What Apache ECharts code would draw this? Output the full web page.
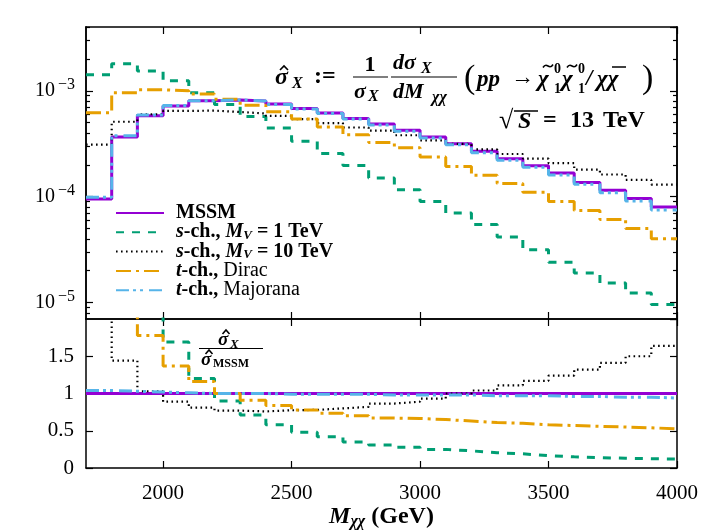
<!DOCTYPE html>
<html>
<head>
<meta charset="utf-8">
<script src="https://cdn.jsdelivr.net/npm/echarts@6/dist/echarts.min.js"></script>
<style>
  html, body { margin: 0; padding: 0; background: #fff; }
  #chart { width: 709px; height: 532px; }
</style>
</head>
<body>
<div id="chart"></div>
<script>
// bin edges (GeV), 100 GeV bins
const binEdges = [1700, 1800, 1900, 2000, 2100, 2200, 2300, 2400, 2500, 2600, 2700, 2800,
  2900, 3000, 3100, 3200, 3300, 3400, 3500, 3600, 3700, 3800, 3900, 4000];

// upper panel: normalised distributions
const mssmTop = [9.5e-5, 3.66e-4, 5.8e-4, 7.2e-4, 8.05e-4, 8.2e-4, 8.0e-4, 7.5e-4, 6.8e-4, 6.16e-4,
  5.48e-4, 4.85e-4, 4.23e-4, 3.66e-4, 3.16e-4, 2.68e-4, 2.28e-4, 1.96e-4, 1.67e-4, 1.36e-4,
  1.15e-4, 9.6e-5, 8.0e-5];
const sch1Top = [1.42e-3, 1.8e-3, 1.54e-3, 1.24e-3, 9.6e-4, 7.4e-4, 5.73e-4, 4.45e-4, 3.33e-4, 2.55e-4,
  1.97e-4, 1.5e-4, 1.16e-4, 9.0e-5, 7.0e-5, 5.45e-5, 4.17e-5, 3.16e-5, 2.4e-5, 1.9e-5,
  1.53e-5, 1.23e-5, 9.6e-6];
const sch10Top = [3.1e-4, 5.1e-4, 6.0e-4, 6.45e-4, 6.5e-4, 6.3e-4, 6.1e-4, 5.8e-4, 5.4e-4, 4.95e-4,
  4.5e-4, 4.2e-4, 3.8e-4, 3.4e-4, 3.15e-4, 2.8e-4, 2.53e-4, 2.29e-4, 2.07e-4, 1.8e-4,
  1.62e-4, 1.44e-4, 1.3e-4];
const diracTop = [6.2e-4, 9.6e-4, 1.02e-3, 1.0e-3, 9.3e-4, 8.3e-4, 7.3e-4, 6.35e-4, 5.4e-4, 4.55e-4,
  3.85e-4, 3.25e-4, 2.9e-4, 2.37e-4, 1.93e-4, 1.59e-4, 1.33e-4, 1.1e-4, 9.0e-5, 7.4e-5,
  6.1e-5, 5.0e-5, 4.0e-5];
const majoranaTop = [9.9e-5, 3.77e-4, 5.9e-4, 7.27e-4, 8.05e-4, 8.2e-4, 8.0e-4, 7.43e-4, 6.73e-4, 6.1e-4,
  5.42e-4, 4.75e-4, 4.15e-4, 3.59e-4, 3.1e-4, 2.6e-4, 2.21e-4, 1.9e-4, 1.6e-4, 1.31e-4,
  1.09e-4, 9.1e-5, 7.5e-5];

// lower panel: ratio to MSSM
const mssmRatio = [1, 1, 1, 1, 1, 1, 1, 1, 1, 1, 1, 1, 1, 1, 1, 1, 1, 1, 1, 1, 1, 1, 1];
const sch1Ratio = [15, 4.9, 2.65, 1.69, 1.2, 0.9, 0.71, 0.58, 0.48, 0.42, 0.35, 0.31, 0.28, 0.25,
  0.23, 0.205, 0.19, 0.165, 0.15, 0.14, 0.13, 0.125, 0.12];
const sch10Ratio = [3.3, 1.44, 1.03, 0.89, 0.81, 0.77, 0.76, 0.775, 0.78, 0.8, 0.82, 0.865, 0.89, 0.93,
  1.0, 1.04, 1.11, 1.17, 1.24, 1.32, 1.41, 1.5, 1.64];
const diracRatio = [6.5, 2.6, 1.78, 1.37, 1.16, 1.0, 0.91, 0.84, 0.78, 0.735, 0.7, 0.67, 0.665, 0.65,
  0.63, 0.61, 0.6, 0.58, 0.57, 0.56, 0.55, 0.54, 0.525];
const majoranaRatio = [1.04, 1.03, 1.02, 1.01, 1.0, 1.0, 1.0, 0.99, 0.99, 0.99, 0.99, 0.98, 0.98, 0.98,
  0.98, 0.97, 0.97, 0.97, 0.96, 0.96, 0.95, 0.95, 0.94];

const seriesNames = ["MSSM", "s-ch., M_V = 1 TeV", "s-ch., M_V = 10 TeV", "t-ch., Dirac", "t-ch., Majorana"];
const xTickValues = [2000, 2500, 3000, 3500, 4000];
const logMinorTicks = [8e-6, 9e-6, 2e-5, 3e-5, 4e-5, 5e-5, 6e-5, 7e-5, 8e-5, 9e-5,
  2e-4, 3e-4, 4e-4, 5e-4, 6e-4, 7e-4, 8e-4, 9e-4, 2e-3, 3e-3, 4e-3];

const FONT = "Liberation Serif";
const colors = ["#9400d3", "#009e73", "#000000", "#e69f00", "#56b4e9"];
const dashes = ["solid", [8, 8], [1.6, 3.4], [15, 5, 3, 5], [13, 4, 3, 4, 3, 6]];
const widths = [3, 3, 2.2, 3, 3];

// histogram -> step points (last bin value repeated at the right edge)
function toSteps(vals) {
  return binEdges.map((e, i) => [e, vals[Math.min(i, vals.length - 1)]]);
}

const chart = echarts.init(document.getElementById("chart"));

const tickStyle = { color: "#000", width: 1.2 };
function xAx(grid, pos, labels) {
  return {
    type: "value", gridIndex: grid, position: pos, min: 1700, max: 4000,
    axisLine: { show: true, onZero: false, lineStyle: { color: "#000", width: 1.5 } },
    axisTick: { show: true, inside: true, length: 7, customValues: xTickValues, lineStyle: tickStyle },
    axisLabel: labels ? {
      show: true, customValues: xTickValues, margin: 15, color: "#000",
      fontFamily: FONT, fontSize: 21, formatter: (v) => String(v)
    } : { show: false },
    splitLine: { show: false }
  };
}
function logAx(pos, minor) {
  return {
    type: "log", logBase: 10, gridIndex: 0, position: pos, min: 7e-6, max: 4e-3,
    axisLine: { show: true, onZero: false, lineStyle: { color: "#000", width: 1.5 } },
    axisTick: minor
      ? { show: true, inside: true, length: 4, customValues: logMinorTicks, lineStyle: tickStyle }
      : { show: true, inside: true, length: 7, lineStyle: tickStyle },
    axisLabel: (pos === "left" && !minor) ? {
      show: true, showMinLabel: false, showMaxLabel: false, margin: 11,
      formatter: function (v) {
        const e = Math.log10(v);
        if (Math.abs(e - Math.round(e)) > 1e-6) return "";
        return "{b|10}{s|\u2212" + (-Math.round(e)) + "}";
      },
      rich: {
        b: { fontFamily: FONT, fontSize: 20, color: "#000" },
        s: { fontFamily: FONT, fontSize: 16, color: "#000", padding: [0, 0, 12, 3] }
      }
    } : { show: false },
    splitLine: { show: false },
    minorTick: { show: false }
  };
}
function ratioAx(pos) {
  return {
    type: "value", gridIndex: 1, position: pos, min: 0, max: 2, interval: 0.5,
    axisLine: { show: true, onZero: false, lineStyle: { color: "#000", width: 1.5 } },
    axisTick: { show: true, inside: true, length: 7, lineStyle: tickStyle },
    axisLabel: pos === "left" ? {
      show: true, showMaxLabel: false, margin: 12, color: "#000", fontFamily: FONT, fontSize: 21
    } : { show: false },
    splitLine: { show: false }
  };
}

const topSets = [mssmTop, sch1Top, sch10Top, diracTop, majoranaTop];
const ratioSets = [mssmRatio, sch1Ratio, sch10Ratio, diracRatio, majoranaRatio];
const series = [];
topSets.forEach((vals, i) => {
  series.push({
    name: seriesNames[i], type: "line", step: "end", symbol: "none", clip: true,
    xAxisIndex: 0, yAxisIndex: 0, data: toSteps(vals), z: 2 + i,
    lineStyle: { color: colors[i], width: widths[i], type: dashes[i] }, itemStyle: { color: colors[i] }
  });
});
ratioSets.forEach((vals, i) => {
  series.push({
    name: seriesNames[i], type: "line", step: "end", symbol: "none", clip: true,
    xAxisIndex: 2, yAxisIndex: 4, data: toSteps(vals), z: 2 + i,
    lineStyle: { color: colors[i], width: widths[i], type: dashes[i] }, itemStyle: { color: colors[i] }
  });
});

const legendText = {
  "MSSM": "{r|MSSM}",
  "s-ch., M_V = 1 TeV": "{i|s}{r|-ch., }{i|M}{sub|V}{r| = 1 TeV}",
  "s-ch., M_V = 10 TeV": "{i|s}{r|-ch., }{i|M}{sub|V}{r| = 10 TeV}",
  "t-ch., Dirac": "{i|t}{r|-ch., }{n|Dirac}",
  "t-ch., Majorana": "{i|t}{r|-ch., }{n|Majorana}"
};

// text pieces for the formula and panel labels
function t(x, y, text, size, weight, style, align) {
  return {
    type: "text", x: x, y: y, z: 100,
    style: {
      text: text, fill: "#000", align: align || "left", verticalAlign: "middle",
      font: (style || "normal") + " " + (weight || "bold") + " " + size + "px '" + FONT + "'"
    }
  };
}
function hl(x1, x2, y, w) {
  return { type: "line", z: 100, shape: { x1: x1, y1: y, x2: x2, y2: y }, style: { stroke: "#000", lineWidth: w || 1 } };
}
function hat(cx, cy, w) {
  return { type: "polyline", z: 100, shape: { points: [[cx - w, cy + 2], [cx, cy - 2], [cx + w, cy + 2]] },
    style: { stroke: "#000", lineWidth: 1.6, fill: null } };
}
function tilde(cx, cy) {
  return { type: "bezierCurve", z: 100,
    shape: { x1: cx - 5, y1: cy + 1.5, x2: cx + 5, y2: cy - 1.5, cpx1: cx - 1, cpy1: cy - 5, cpx2: cx + 1, cpy2: cy + 5 },
    style: { stroke: "#000", lineWidth: 1.6, fill: null } };
}
const graphics = [
  t(275, 78, "\u03c3", 24, "bold", "italic"),
  hat(284, 68, 4),
  t(292, 84, "X", 16, "bold", "italic"),
  t(314, 77, ":=", 24, "bold"),
  t(370, 65, "1", 22, "bold", "normal", "center"),
  hl(353, 388, 77, 1.2),
  t(354, 92, "\u03c3", 22, "bold", "italic"),
  t(368, 97, "X", 16, "bold", "italic"),
  t(393, 63, "d\u03c3", 22, "bold", "italic"),
  t(421, 69, "X", 16, "bold", "italic"),
  hl(391, 457, 77, 1.2),
  t(393, 92, "dM", 22, "bold", "italic"),
  t(432, 98, "\u03c7\u03c7", 16, "bold", "italic"),
  t(464, 79, "(", 34, "normal"),
  t(477, 80, "pp", 23, "bold", "italic"),
  t(511, 78, "\u2192", 23, "bold"),
  t(538, 80, "\u03c7", 23, "bold", "italic"),
  tilde(548, 66),
  t(554, 69, "0", 14, "bold"),
  t(554, 89, "1", 14, "bold"),
  t(562, 80, "\u03c7", 23, "bold", "italic"),
  tilde(572, 66),
  t(578, 69, "0", 14, "bold"),
  t(578, 89, "1", 14, "bold"),
  t(586, 79, "/", 23, "bold", "italic"),
  t(597, 80, "\u03c7\u03c7", 23, "bold", "italic"),
  hl(612, 626, 67, 1.5),
  t(642, 79, ")", 34, "normal"),
  t(499, 121, "\u221a", 26, "bold"),
  hl(514, 538, 111, 1.5),
  t(518, 122, "S", 24, "bold", "italic"),
  t(543, 121, "=", 24, "bold"),
  t(570, 121, "13", 24, "bold"),
  t(603, 121, "TeV", 24, "bold"),
  // ratio label
  t(218, 340, "\u03c3", 19, "bold", "italic"),
  hat(226, 332, 3.5),
  t(230, 345, "X", 13, "bold", "italic"),
  hl(199, 263, 348.5, 1.2),
  t(201, 360, "\u03c3", 19, "bold", "italic"),
  hat(209, 352, 3.5),
  t(213, 364, "MSSM", 12, "bold")
];

chart.setOption({
  animation: false,
  backgroundColor: "#fff",
  grid: [
    { left: 86, top: 27, width: 591, height: 292, show: false, outerBoundsMode: "none" },
    { left: 86, top: 319, width: 591, height: 149, show: false, outerBoundsMode: "none" }
  ],
  xAxis: [
    xAx(0, "bottom", false), xAx(0, "top", false),
    Object.assign(xAx(1, "bottom", true), {
      name: "{m|M}{s|\u03c7\u03c7}{g| (GeV)}", nameLocation: "middle", nameGap: 35,
      nameTextStyle: {
        rich: {
          m: { fontFamily: FONT, fontSize: 24, fontWeight: "bold", fontStyle: "italic", color: "#000" },
          s: { fontFamily: FONT, fontSize: 16, fontWeight: "bold", fontStyle: "italic", color: "#000", padding: [10, 0, 0, 0] },
          g: { fontFamily: FONT, fontSize: 24, fontWeight: "bold", color: "#000" }
        }
      }
    }),
    xAx(1, "top", false)
  ],
  yAxis: [logAx("left", false), logAx("left", true), logAx("right", false), logAx("right", true),
    ratioAx("left"), ratioAx("right")],
  legend: {
    data: seriesNames, orient: "vertical", left: 115, top: 203, padding: 0,
    itemWidth: 48, itemHeight: 12, itemGap: -0.7,
    itemStyle: { color: "transparent", borderColor: "transparent", borderWidth: 0, opacity: 0 },
    formatter: function (n) { return legendText[n]; },
    textStyle: {
      padding: [0, 0, 0, 7],
      rich: {
        r: { fontFamily: FONT, fontSize: 20, fontWeight: "bold", color: "#000", lineHeight: 18 },
        n: { fontFamily: FONT, fontSize: 20, color: "#000", lineHeight: 18 },
        i: { fontFamily: FONT, fontSize: 20, fontWeight: "bold", fontStyle: "italic", color: "#000", lineHeight: 18 },
        sub: { fontFamily: FONT, fontSize: 13, fontWeight: "bold", fontStyle: "italic", color: "#000", padding: [6, 0, 0, 0], lineHeight: 12 }
      }
    }
  },
  graphic: graphics,
  series: series
});
</script>
</body>
</html>
